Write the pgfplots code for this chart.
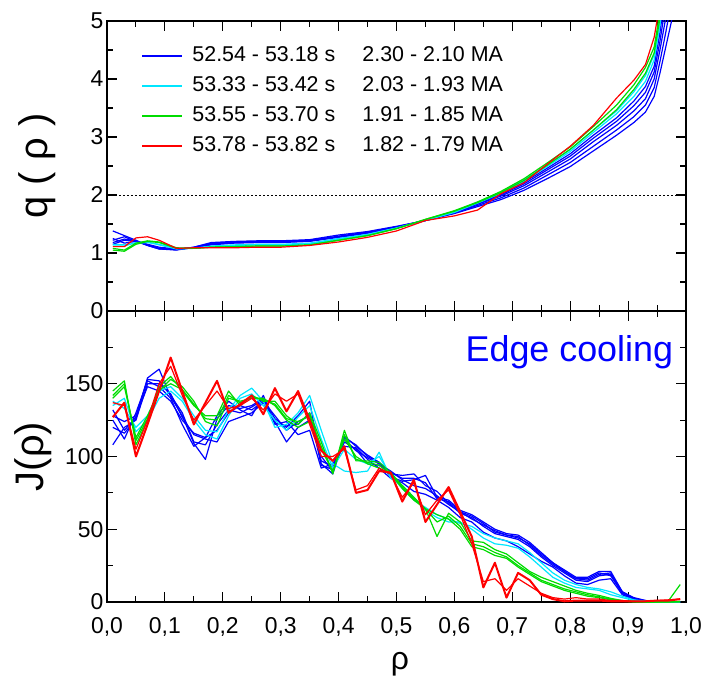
\documentclass[border=0pt]{standalone}
\usepackage{pgfplots}
\pgfplotsset{compat=1.18}
\usepackage{pgfplotstable}
\usepackage{fontspec}
\setmainfont{Liberation Sans}
\definecolor{qblue}{RGB}{0,0,255}
\definecolor{qcyan}{RGB}{0,230,255}
\definecolor{qgreen}{RGB}{0,220,0}
\definecolor{qred}{RGB}{255,0,0}

\pgfplotstableread{
x      b1    b2    b3    b4    b5    c1    c2    g1    g2    r1
0.01   1.38  1.22  1.15  1.25  1.18  1.12  1.15  1.05  1.08  1.11
0.03   1.30  1.28  1.22  1.17  1.24  1.12  1.14  1.03  1.05  1.11
0.05   1.22  1.20  1.20  1.20  1.21  1.18  1.17  1.15  1.17  1.26
0.07   1.13  1.13  1.14  1.15  1.14  1.19  1.18  1.20  1.21  1.28
0.09   1.07  1.07  1.08  1.10  1.08  1.14  1.15  1.18  1.19  1.22
0.12   1.05  1.06  1.06  1.07  1.06  1.07  1.08  1.08  1.09  1.08
0.15   1.10  1.10  1.09  1.09  1.09  1.08  1.08  1.08  1.08  1.09
0.18   1.18  1.17  1.15  1.14  1.16  1.12  1.11  1.10  1.10  1.09
0.22   1.20  1.19  1.18  1.17  1.18  1.14  1.13  1.11  1.11  1.09
0.26   1.21  1.20  1.19  1.18  1.19  1.15  1.14  1.12  1.12  1.10
0.30   1.21  1.20  1.19  1.18  1.19  1.15  1.14  1.12  1.12  1.10
0.35   1.23  1.22  1.21  1.20  1.21  1.17  1.16  1.14  1.14  1.13
0.40   1.31  1.29  1.28  1.27  1.28  1.25  1.24  1.22  1.22  1.19
0.45   1.37  1.36  1.35  1.34  1.35  1.32  1.32  1.30  1.30  1.27
0.50   1.46  1.45  1.45  1.44  1.44  1.43  1.43  1.42  1.42  1.38
0.55   1.56  1.56  1.56  1.56  1.56  1.56  1.57  1.58  1.58  1.56
0.60   1.68  1.69  1.70  1.70  1.71  1.70  1.71  1.73  1.72  1.64
0.64   1.80  1.82  1.84  1.85  1.86  1.86  1.88  1.88  1.87  1.74
0.68   1.92  1.95  1.98  2.00  2.02  2.03  2.05  2.06  2.04  2.02
0.72   2.08  2.12  2.16  2.19  2.22  2.24  2.26  2.28  2.25  2.21
0.76   2.28  2.34  2.39  2.43  2.46  2.49  2.52  2.55  2.51  2.53
0.80   2.49  2.56  2.62  2.67  2.71  2.75  2.78  2.83  2.79  2.84
0.84   2.76  2.84  2.92  2.98  3.03  3.08  3.12  3.18  3.12  3.20
0.88   3.03  3.12  3.20  3.27  3.33  3.40  3.45  3.55  3.47  3.67
0.91   3.25  3.35  3.45  3.54  3.62  3.70  3.78  3.90  3.82  3.98
0.93   3.43  3.55  3.66  3.77  3.87  3.96  4.06  4.20  4.10  4.25
0.945  3.70  3.85  4.00  4.12  4.22  4.33  4.42  4.55  4.45  4.72
0.955  4.10  4.30  4.50  4.65  4.80  4.92  5.00  5.15  5.05  5.30
0.965  4.55  4.80  5.05  5.30  5.55  5.80  6.00  6.20  6.10  6.30
0.975  5.00  5.35  5.70  6.00  6.30  6.60  6.80  7.00  6.90  7.10
0.985  5.60  6.00  6.40  6.80  7.20  7.50  7.70  8.00  7.90  8.10
}\qtab

\pgfplotstableread{
x    b1  b2  b3  b4  b5  c1  c2  g1  g2  g3  r1  r2
0.01 132 108 125 128 120 138 135 145 140 142 127 137
0.03 118 120 112 124 116 133 140 152 148 150 137 135
0.05 127 125 130 128 126 120 117 108 113 111 100 105
0.07 154 150 152 148 153 128 125 125 128 126 122 125
0.09 160 150 148 145 152 145 140 148 145 146 145 150
0.11 141 143 140 138 142 148 145 155 153 150 168 162
0.13 128 127 122 125 130 140 138 145 148 146 145 142
0.15 109 115 107 116 110 128 125 135 138 136 122 125
0.17 98  112 113 113 108 118 115 128 124 126 137 135
0.19 126 110 128 118 122 117 112 128 121 125 152 145
0.21 135 124 138 130 132 132 128 145 140 142 130 133
0.23 133 127 132 135 130 142 140 135 138 137 136 135
0.25 135 130 128 132 134 147 143 142 140 141 142 140
0.27 140 137 142 138 139 138 135 138 140 139 129 132
0.29 126 124 122 128 123 120 125 138 135 136 147 143
0.31 120 110 124 118 121 122 118 128 125 126 131 138
0.33 128 120 115 124 122 130 127 122 120 124 145 143
0.35 138 125 118 128 130 142 135 130 124 128 125 122
0.37 95  100 92  97  94  118 112 110 105 107 104 100
0.39 88  90  95  93  91  95  92  88  90  89  97  100
0.41 113 110 107 112 114 90  105 118 112 115 107 105
0.43 108 105 106 104 107 89  98  97  100 98  75  77
0.45 100 95  98  99  101 90  95  97  95  96  77  80
0.47 96  94  92  95  96  103 100 96  92  94  90  92
0.49 86  88  85  90  89  85  87  89  88  88  89  88
0.51 83  87  82  84  85  80  78  80  78  79  69  72
0.53 84  88  76  80  85  72  70  72  70  71  84  82
0.55 87  80  74  78  82  63  65  64  64  64  55  60
0.57 72  76  70  73  71  58  60  45  60  55  67  70
0.59 70  68  65  67  69  55  57  61  57  59  79  77
0.61 63  61  58  62  62  55  54  55  50  52  62  60
0.63 60  58  55  57  59  50  52  42  38  40  45  40
0.65 55  52  48  53  54  44  47  41  36  38  10  14
0.67 50  47  44  49  48  40  44  36  32  34  27  16
0.69 47  45  42  46  46  39  42  33  30  31  3   8
0.71 46  43  38  44  45  37  40  27  24  25  20  16
0.73 41  38  33  40  39  31  34  21  19  20  15  11
0.75 34  31  28  33  32  24  27  17  14  15  5   6
0.77 27  25  24  27  26  17  20  14  11  12  2   3
0.79 22  20  18  21  21  13  15  11  8   9   0.5 2
0.81 17  15  13  16  16  10  12  8   6   7   1   3
0.83 17  14  12  16  15  9   10  6   4   5   1   2
0.85 21  18  15  20  19  8   9   4.5 3   3.5 1   2
0.87 21  19  16  18  20  5   7   2.5 1.5 2   0.5 1
0.89 7   6   5   6   7   3   4   1   0.5 0.8 0.5 1
0.91 3   2   1.5 2   2.5 1   1.5 0.5 0   0.3 0.5 0.5
0.93 1   0.5 0.5 0.5 1   0.5 0.5 0   0   0   0.5 0.5
0.95 0.5 0   0   0   0   0   0   0   0   0   1   1
0.97 0   0   0   0   0   0   0   1   0   0   1   1.5
0.99 0   0   0   0   0   0   0   12  0.5 0   2   2
}\jtab

\pgfplotsset{
  common/.style={
    scale only axis, width=579bp,
    xmin=0, xmax=1,
    axis line style={line width=1.3bp, black},
    every tick/.style={line width=1.1bp, black},
    major tick length=10bp, minor tick length=6bp,
    xtick={0,0.1,...,1.0}, minor x tick num=1,
    tick align=inside, xtick pos=both, ytick pos=both,
    /pgf/number format/assume math mode=true,
    ticklabel style={font=\fontsize{23}{26}\selectfont},
    every axis plot/.append style={line width=1.2bp, line join=round},
  }
}

\begin{document}
\begin{tikzpicture}
\begin{axis}[common, name=bot, at={(0,0)}, anchor=south west,
  height=291bp, ymin=0, ymax=200,
  ytick={0,50,100,150}, minor ytick={25,75,125,175},
  xticklabel style={/pgf/number format/.cd, use comma, fixed, fixed zerofill, precision=1},
  xticklabel shift=12bp,
  xlabel={ρ}, xlabel style={font=\fontsize{32}{32}\selectfont, inner sep=0pt, at={(axis description cs:0.506,-0.213)}, anchor=center},
  ylabel={J(ρ)}, ylabel style={font=\fontsize{40}{40}\selectfont, at={(axis description cs:-0.128,0.5)}, anchor=center},
]
\addplot[qblue] table[x=x,y=b1]{\jtab};
\addplot[qblue] table[x=x,y=b2]{\jtab};
\addplot[qblue] table[x=x,y=b3]{\jtab};
\addplot[qblue] table[x=x,y=b4]{\jtab};
\addplot[qblue] table[x=x,y=b5]{\jtab};
\addplot[qcyan] table[x=x,y=c1]{\jtab};
\addplot[qcyan] table[x=x,y=c2]{\jtab};
\addplot[qgreen] table[x=x,y=g1]{\jtab};
\addplot[qgreen] table[x=x,y=g2]{\jtab};
\addplot[qgreen] table[x=x,y=g3]{\jtab};
\addplot[qred] table[x=x,y=r2]{\jtab};
\addplot[qred, line width=2bp] table[x=x,y=r1]{\jtab};
\node[anchor=east, text=qblue, font=\fontsize{36}{36}\selectfont, inner sep=0pt] at (axis description cs:0.978,0.86) {Edge cooling};
\end{axis}

\begin{axis}[common, name=top, at={(bot.north west)}, anchor=south west,
  height=290bp, ymin=0, ymax=5,
  ytick={0,1,2,3,4,5}, minor y tick num=1,
  xticklabels={},
  ylabel={q ( ρ )}, ylabel style={font=\fontsize{40}{40}\selectfont, at={(axis description cs:-0.121,0.5)}, anchor=center},
  legend style={at={(axis description cs:0.054,0.928)}, anchor=north west, draw=none, fill=none,
    font=\fontsize{21.5}{23}\selectfont, row sep=6bp,
    nodes={text height=15bp, text depth=5bp, inner sep=2bp}},
  legend cell align=left,
  legend image code/.code={\draw[#1] (0bp,0bp) -- (40bp,0bp);},
]
\addplot[black, line width=0.5bp, dash pattern=on 2bp off 2bp, forget plot] coordinates {(0,2) (1,2)};
\addplot[qblue, forget plot] table[x=x,y=b1]{\qtab};
\addplot[qblue, forget plot] table[x=x,y=b2]{\qtab};
\addplot[qblue, forget plot] table[x=x,y=b3]{\qtab};
\addplot[qblue, forget plot] table[x=x,y=b4]{\qtab};
\addplot[qblue, forget plot] table[x=x,y=b5]{\qtab};
\addplot[qcyan, forget plot] table[x=x,y=c1]{\qtab};
\addplot[qcyan, forget plot] table[x=x,y=c2]{\qtab};
\addplot[qgreen, forget plot] table[x=x,y=g1]{\qtab};
\addplot[qgreen, forget plot] table[x=x,y=g2]{\qtab};
\addplot[qred, forget plot] table[x=x,y=r1]{\qtab};
\addlegendimage{qblue, line width=2bp}
\addlegendentry{\hspace*{7bp}\makebox[170bp][l]{52.54 - 53.18 s}2.30 - 2.10 MA}
\addlegendimage{qcyan, line width=2bp}
\addlegendentry{\hspace*{7bp}\makebox[170bp][l]{53.33 - 53.42 s}2.03 - 1.93 MA}
\addlegendimage{qgreen, line width=2bp}
\addlegendentry{\hspace*{7bp}\makebox[170bp][l]{53.55 - 53.70 s}1.91 - 1.85 MA}
\addlegendimage{qred, line width=1.5bp}
\addlegendentry{\hspace*{7bp}\makebox[170bp][l]{53.78 - 53.82 s}1.82 - 1.79 MA}
\end{axis}
\pgfresetboundingbox
\path[use as bounding box] (-107bp,-74bp) rectangle (598bp,602bp);
\end{tikzpicture}
\end{document}
